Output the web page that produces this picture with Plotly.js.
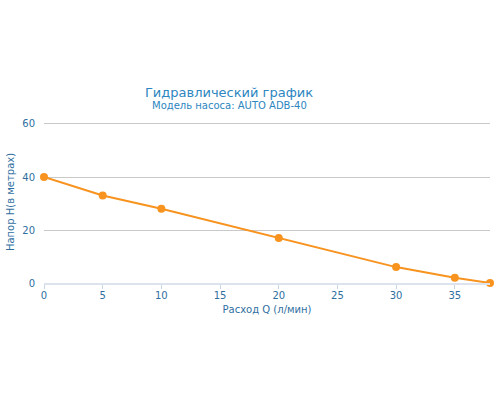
<!DOCTYPE html>
<html>
<head>
<meta charset="utf-8">
<script src="https://cdn.plot.ly/plotly-3.0.1.min.js"></script>
<style>
  html, body { margin: 0; padding: 0; background: #fff; }
  #plot { width: 500px; height: 400px; }
</style>
</head>
<body>
<div id="plot"></div>
<script>
// pump curve: flow Q (l/min) vs head H (m)
let flow = [0, 5, 10, 20, 30, 35, 38];
let head = [40, 33, 28, 17, 6, 2, 0];

let axisBlue = '#2f6f9f';
let orange = '#f7931e';

let trace = {
  x: flow,
  y: head,
  type: 'scatter',
  mode: 'lines+markers',
  line: {color: orange, width: 2, shape: 'linear'},
  marker: {color: orange, size: 8},
  cliponaxis: false,
  hoverinfo: 'x+y'
};

let layout = {
  width: 500,
  height: 400,
  margin: {l: 44, r: 10, t: 121, b: 117},
  paper_bgcolor: '#fff',
  plot_bgcolor: '#fff',
  font: {family: 'DejaVu Sans, Verdana, sans-serif', size: 10, color: axisBlue},
  showlegend: false,
  title: {
    text: 'Гидравлический график',
    font: {size: 13, color: '#2c86bf'},
    x: 0.458,
    xanchor: 'center',
    y: 0.77,
    yanchor: 'middle'
  },
  annotations: [{
    text: 'Модель насоса: AUTO ADB-40',
    xref: 'paper', yref: 'paper',
    x: 0.415, y: 1.095,
    xanchor: 'center', yanchor: 'middle',
    showarrow: false,
    font: {size: 10, color: '#2c86bf'}
  }],
  xaxis: {
    range: [0, 38],
    tickvals: [0, 5, 10, 15, 20, 25, 30, 35],
    showgrid: false,
    zeroline: false,
    showline: true,
    linecolor: '#dde3ec',
    linewidth: 2,
    ticks: 'outside',
    ticklen: 4,
    tickcolor: '#c8d4e3',
    ticklabelstandoff: -2,
    tickfont: {size: 10, color: axisBlue},
    title: {text: 'Расход Q (л/мин)', font: {size: 10, color: axisBlue}, standoff: 6}
  },
  yaxis: {
    range: [0, 61.13],
    tickvals: [0, 20, 40, 60],
    showgrid: true,
    gridcolor: '#c9c9c9',
    gridwidth: 1,
    zeroline: false,
    showline: false,
    ticks: '',
    ticklabelstandoff: 8,
    tickfont: {size: 10, color: axisBlue},
    title: {text: 'Напор H(в метрах)', font: {size: 10, color: axisBlue}, standoff: 5}
  }
};

Plotly.newPlot('plot', [trace], layout, {displayModeBar: false});
</script>
</body>
</html>
